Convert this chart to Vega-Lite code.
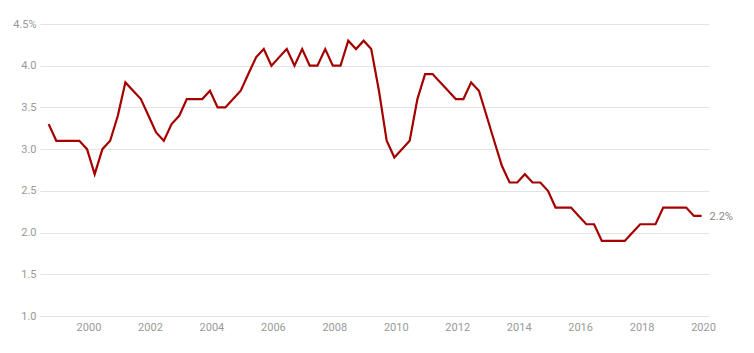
{
  "$schema": "https://vega.github.io/schema/vega-lite/v6.json",
  "width": 669,
  "height": 292,
  "autosize": {"type": "none"},
  "padding": {"left": 40, "top": 24, "right": 45, "bottom": 37},
  "background": "white",
  "config": {
    "view": {"stroke": null},
    "font": "Roboto",
    "axis": {"labelFont": "Roboto", "labelFontSize": 11, "labelColor": "#999999"}
  },
  "data": {
    "values": [
      {"date": "1998-09-15", "value": 3.3},
      {"date": "1998-12-15", "value": 3.1},
      {"date": "1999-03-15", "value": 3.1},
      {"date": "1999-06-15", "value": 3.1},
      {"date": "1999-09-15", "value": 3.1},
      {"date": "1999-12-15", "value": 3.0},
      {"date": "2000-03-15", "value": 2.7},
      {"date": "2000-06-15", "value": 3.0},
      {"date": "2000-09-15", "value": 3.1},
      {"date": "2000-12-15", "value": 3.4},
      {"date": "2001-03-15", "value": 3.8},
      {"date": "2001-06-15", "value": 3.7},
      {"date": "2001-09-15", "value": 3.6},
      {"date": "2001-12-15", "value": 3.4},
      {"date": "2002-03-15", "value": 3.2},
      {"date": "2002-06-15", "value": 3.1},
      {"date": "2002-09-15", "value": 3.3},
      {"date": "2002-12-15", "value": 3.4},
      {"date": "2003-03-15", "value": 3.6},
      {"date": "2003-06-15", "value": 3.6},
      {"date": "2003-09-15", "value": 3.6},
      {"date": "2003-12-15", "value": 3.7},
      {"date": "2004-03-15", "value": 3.5},
      {"date": "2004-06-15", "value": 3.5},
      {"date": "2004-09-15", "value": 3.6},
      {"date": "2004-12-15", "value": 3.7},
      {"date": "2005-03-15", "value": 3.9},
      {"date": "2005-06-15", "value": 4.1},
      {"date": "2005-09-15", "value": 4.2},
      {"date": "2005-12-15", "value": 4.0},
      {"date": "2006-03-15", "value": 4.1},
      {"date": "2006-06-15", "value": 4.2},
      {"date": "2006-09-15", "value": 4.0},
      {"date": "2006-12-15", "value": 4.2},
      {"date": "2007-03-15", "value": 4.0},
      {"date": "2007-06-15", "value": 4.0},
      {"date": "2007-09-15", "value": 4.2},
      {"date": "2007-12-15", "value": 4.0},
      {"date": "2008-03-15", "value": 4.0},
      {"date": "2008-06-15", "value": 4.3},
      {"date": "2008-09-15", "value": 4.2},
      {"date": "2008-12-15", "value": 4.3},
      {"date": "2009-03-15", "value": 4.2},
      {"date": "2009-06-15", "value": 3.7},
      {"date": "2009-09-15", "value": 3.1},
      {"date": "2009-12-15", "value": 2.9},
      {"date": "2010-03-15", "value": 3.0},
      {"date": "2010-06-15", "value": 3.1},
      {"date": "2010-09-15", "value": 3.6},
      {"date": "2010-12-15", "value": 3.9},
      {"date": "2011-03-15", "value": 3.9},
      {"date": "2011-06-15", "value": 3.8},
      {"date": "2011-09-15", "value": 3.7},
      {"date": "2011-12-15", "value": 3.6},
      {"date": "2012-03-15", "value": 3.6},
      {"date": "2012-06-15", "value": 3.8},
      {"date": "2012-09-15", "value": 3.7},
      {"date": "2012-12-15", "value": 3.4},
      {"date": "2013-03-15", "value": 3.1},
      {"date": "2013-06-15", "value": 2.8},
      {"date": "2013-09-15", "value": 2.6},
      {"date": "2013-12-15", "value": 2.6},
      {"date": "2014-03-15", "value": 2.7},
      {"date": "2014-06-15", "value": 2.6},
      {"date": "2014-09-15", "value": 2.6},
      {"date": "2014-12-15", "value": 2.5},
      {"date": "2015-03-15", "value": 2.3},
      {"date": "2015-06-15", "value": 2.3},
      {"date": "2015-09-15", "value": 2.3},
      {"date": "2015-12-15", "value": 2.2},
      {"date": "2016-03-15", "value": 2.1},
      {"date": "2016-06-15", "value": 2.1},
      {"date": "2016-09-15", "value": 1.9},
      {"date": "2016-12-15", "value": 1.9},
      {"date": "2017-03-15", "value": 1.9},
      {"date": "2017-06-15", "value": 1.9},
      {"date": "2017-09-15", "value": 2.0},
      {"date": "2017-12-15", "value": 2.1},
      {"date": "2018-03-15", "value": 2.1},
      {"date": "2018-06-15", "value": 2.1},
      {"date": "2018-09-15", "value": 2.3},
      {"date": "2018-12-15", "value": 2.3},
      {"date": "2019-03-15", "value": 2.3},
      {"date": "2019-06-15", "value": 2.3},
      {"date": "2019-09-15", "value": 2.2},
      {"date": "2019-12-15", "value": 2.2}
    ]
  },
  "encoding": {
    "x": {
      "field": "date",
      "type": "temporal",
      "title": null,
      "scale": {"domain": ["1998-06-04", "2020-03-12"]},
      "axis": {
        "format": "%Y",
        "tickCount": {"interval": "year", "step": 2},
        "domain": false,
        "ticks": false,
        "grid": false,
        "labelPadding": 5,
        "labelFlush": false,
        "labelOverlap": false
      }
    },
    "y": {
      "field": "value",
      "type": "quantitative",
      "title": null,
      "scale": {"domain": [1, 4.5], "nice": false, "zero": false},
      "axis": {
        "values": [1, 1.5, 2, 2.5, 3, 3.5, 4, 4.5],
        "labelExpr": "datum.value == 4.5 ? '4.5%' : format(datum.value, '.1f')",
        "domain": false,
        "ticks": false,
        "grid": true,
        "gridColor": "#e3e3e3",
        "gridWidth": 1,
        "labelPadding": 4
      }
    }
  },
  "layer": [
    {
      "mark": {"type": "line", "color": "#a50000", "strokeWidth": 2.2, "strokeJoin": "miter"}
    },
    {
      "transform": [
        {"window": [{"op": "row_number", "as": "rn"}], "sort": [{"field": "date", "order": "descending"}]},
        {"filter": "datum.rn == 1"},
        {"calculate": "format(datum.value, '.1f') + '%'", "as": "label"}
      ],
      "mark": {"type": "text", "align": "left", "baseline": "middle", "dx": 8, "dy": 1, "fontSize": 11, "color": "#888888", "font": "Roboto"},
      "encoding": {"text": {"field": "label"}}
    }
  ]
}
